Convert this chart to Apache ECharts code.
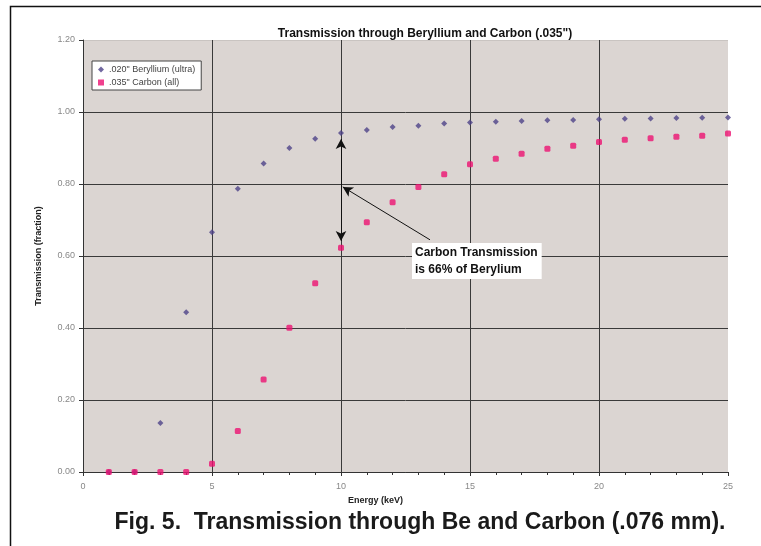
<!DOCTYPE html>
<html>
<head>
<meta charset="utf-8">
<script src="https://cdn.jsdelivr.net/npm/echarts@6/dist/echarts.min.js"></script>
<style>
  html, body { margin: 0; padding: 0; background: #fff; }
  #main { width: 761px; height: 546px; }
</style>
</head>
<body>
<div id="main"></div>
<script>
const energy = [1, 2, 3, 4, 5, 6, 7, 8, 9, 10, 11, 12, 13, 14, 15, 16, 17, 18, 19, 20, 21, 22, 23, 24, 25];
const beryllium = [0.0, 0.0, 0.136, 0.444, 0.666, 0.787, 0.857, 0.900, 0.926, 0.942, 0.950, 0.958, 0.962, 0.968, 0.971,
  0.973, 0.975, 0.977, 0.978, 0.980, 0.981, 0.982, 0.983, 0.984, 0.985];
const carbon = [0.0, 0.0, 0.0, 0.0, 0.023, 0.114, 0.257, 0.401, 0.524, 0.623, 0.694, 0.749, 0.792, 0.827, 0.855,
  0.870, 0.884, 0.898, 0.906, 0.917, 0.923, 0.927, 0.931, 0.934, 0.940];
const seriesNames = ['.020" Beryllium (ultra)', '.035" Carbon (all)'];
const FONT = '"Liberation Sans", Arial, sans-serif';

function pairs(ys) {
  return energy.map((x, i) => [x, ys[i]]);
}

var myChart = echarts.init(document.getElementById("main"));
myChart.setOption({
  animation: false,
  textStyle: { fontFamily: FONT },
  title: [
    {
      text: 'Transmission through Beryllium and Carbon (.035")',
      left: 420, top: 23, textAlign: 'center',
      textStyle: { fontSize: 12, fontWeight: 'bold', color: '#111', fontFamily: FONT }
    },
    {
      text: 'Fig. 5.  Transmission through Be and Carbon (.076 mm).',
      left: 415, top: 506, textAlign: 'center',
      textStyle: { fontSize: 23, fontWeight: 'bold', color: '#1a1a1a', fontFamily: FONT }
    }
  ],
  legend: {
    orient: 'vertical',
    left: 92, top: 61,
    backgroundColor: '#fff',
    borderColor: '#444',
    borderWidth: 1,
    borderRadius: 0,
    padding: [4, 6, 3, 6],
    itemGap: 4,
    itemWidth: 6,
    itemHeight: 6,
    textStyle: { fontSize: 9, color: '#444', fontFamily: FONT },
    data: [
      { name: seriesNames[0], icon: 'diamond' },
      { name: seriesNames[1], icon: 'rect' }
    ]
  },
  grid: { left: 83, right: 33, top: 40, bottom: 74, backgroundColor: '#dbd5d2', show: true, borderWidth: 0 },
  xAxis: {
    type: 'value', min: 0, max: 25, interval: 5,
    name: 'Energy (keV)', nameLocation: 'middle', nameGap: 20,
    nameTextStyle: { fontSize: 9, fontWeight: 'bold', color: '#222', padding: [0, 60, 0, 0] },
    axisLine: { onZero: false, lineStyle: { color: '#333' } },
    axisTick: { show: true, length: 4, lineStyle: { color: '#333' } },
    minorTick: { show: true, splitNumber: 5, length: 3, lineStyle: { color: '#333' } },
    axisLabel: { fontSize: 9, color: '#888', margin: 10 },
    splitLine: { show: true, lineStyle: { color: ['#3a3a3a', '#3a3a3a', '#3a3a3a', '#3a3a3a', '#3a3a3a', 'rgba(0,0,0,0)'], width: 1 } }
  },
  yAxis: {
    type: 'value', min: 0, max: 1.2, interval: 0.2,
    name: 'Transmission (fraction)', nameLocation: 'middle', nameGap: 40,
    nameTextStyle: { fontSize: 9, fontWeight: 'bold', color: '#222' },
    axisLine: { show: true, lineStyle: { color: '#333' } },
    axisTick: { show: true, length: 4, lineStyle: { color: '#333' } },
    axisLabel: { fontSize: 9, color: '#888', formatter: v => v.toFixed(2) },
    splitLine: { show: true, lineStyle: { color: ['#3a3a3a', '#3a3a3a', '#3a3a3a', '#3a3a3a', '#3a3a3a', '#3a3a3a', 'rgba(0,0,0,0.08)'], width: 1 } }
  },
  series: [
    {
      name: seriesNames[0], type: 'scatter', symbol: 'diamond', symbolSize: 6,
      itemStyle: { color: '#4e4288' },
      data: pairs(beryllium),
      markLine: {
        silent: true, animation: false,
        label: { show: false },
        lineStyle: { color: '#111', width: 1, type: 'solid' },
        symbolSize: [8, 10],
        data: [
          [{ coord: [10, 0.642], symbol: 'arrow' }, { coord: [10, 0.925], symbol: 'arrow' }],
          [{ coord: [13.45, 0.645], symbol: 'none' }, { coord: [10.07, 0.792], symbol: 'arrow' }]
        ]
      }
    },
    {
      name: seriesNames[1], type: 'scatter', symbol: 'roundRect', symbolSize: 6,
      itemStyle: { color: '#ec1272' },
      data: pairs(carbon)
    }
  ],
  graphic: [
    {
      type: 'rect', left: 8, top: 4, z: -10, silent: true,
      shape: { width: 800, height: 600 },
      style: { fill: 'none', stroke: '#111', lineWidth: 1.5 }
    },
    {
      type: 'text', left: 412, top: 243, z: 100,
      style: {
        text: 'Carbon Transmission\nis 66% of Berylium',
        font: 'bold 12px ' + FONT, fill: '#111', lineHeight: 17,
        backgroundColor: '#fff', padding: [1, 4, 1, 3]
      }
    }
  ]
});
</script>
</body>
</html>
